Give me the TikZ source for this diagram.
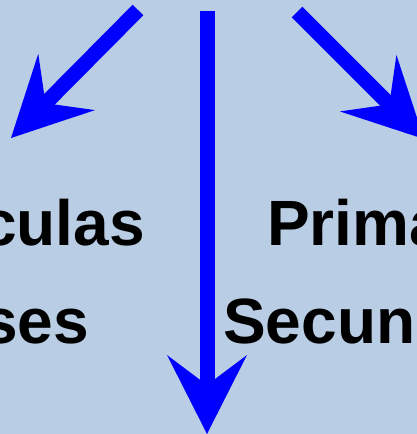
\documentclass[tikz,border=0pt]{standalone}
\usepackage{fontspec}
\setmainfont{Liberation Sans}
\usetikzlibrary{arrows.meta}
\definecolor{bgblue}{HTML}{B9CDE5}
\definecolor{arrblue}{HTML}{0000FF}
\tikzset{
  bigarrow/.style={draw=arrblue, line width=15pt, line cap=butt,
    -{Stealth[length=79pt, width=80pt, inset=30pt, line width=0pt, fill=arrblue]}},
  word/.style={inner sep=0pt, text=black, font=\fontsize{64}{77}\selectfont\bfseries}
}
\begin{document}
\begin{tikzpicture}[x=1pt,y=-1pt]
\useasboundingbox (0,0) rectangle (417,434);
\clip (0,0) rectangle (417,434);
\fill[bgblue] (0,0) rectangle (417,434);
\coordinate (ls) at (138,10);
\coordinate (lt) at (11,138);
\coordinate (ms) at (207,11);
\coordinate (mt) at (207,434);
\coordinate (rs) at (297,12);
\coordinate (rt) at (424,139);
\draw[bigarrow] (ls) -- (lt);
\draw[bigarrow] (ms) -- (mt);
\draw[bigarrow] (rs) -- (rt);
\node[word, anchor=base east] (part) at (145,245) {Partículas};
\node[word, anchor=base east] (gases) at (89,343) {Gases};
\node[word, anchor=base west] (prim) at (267,245) {Primarias};
\node[word, anchor=base west] (secu) at (223,343) {Secundarias};
\end{tikzpicture}
\end{document}
